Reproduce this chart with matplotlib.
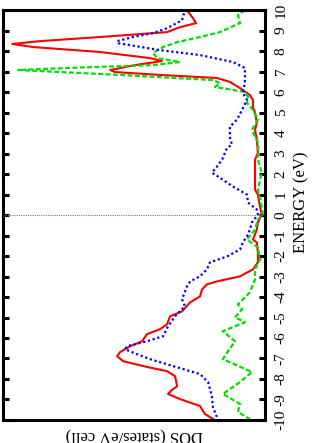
import numpy as np
import matplotlib.pyplot as plt

plt.rcParams["font.family"] = ["Liberation Serif", "DejaVu Serif"]

# energies (eV) and DOS (states/eV cell)
red_E = [10.0, 9.61, 9.37, 9.17, 8.93, 8.69, 8.49, 8.35, 8.20, 7.96, 7.66, 7.52,
         7.32, 7.08, 6.98, 6.84, 6.69, 6.50, 6.20, 5.86, 5.62, 5.28, 4.99, 4.50,
         4.16, 3.67, 3.04, 2.70, 2.07, 1.24, 1.00, 0.41, 0.02, -0.36, -0.71,
         -1.19, -1.34, -1.82, -2.31, -2.65, -2.99, -3.24, -3.38, -3.63, -3.97,
         -4.26, -4.70, -4.94, -5.33, -5.57, -5.81, -6.16, -6.40, -6.69, -6.89,
         -7.13, -7.37, -7.62, -7.86, -8.35, -8.54, -8.73, -8.98, -9.32, -9.71, -9.95]
red_D = [3.00, 2.77, 2.65, 3.27, 3.77, 6.35, 8.65, 9.73, 8.92, 6.35, 4.42, 3.96,
         5.00, 5.96, 5.77, 4.04, 1.85, 1.35, 0.96, 0.58, 0.46, 0.46, 0.38, 0.31,
         0.38, 0.31, 0.27, 0.38, 0.38, 0.38, 0.27, 0.19, 0.12, 0.27, 0.31,
         0.46, 0.31, 0.27, 0.27, 0.46, 0.96, 1.85, 2.23, 2.42, 2.50,
         2.88, 3.19, 3.65, 3.77, 4.04, 4.54, 4.73, 5.19, 5.58, 5.69,
         5.46, 4.69, 3.77, 3.46, 3.38, 3.58, 3.73, 3.27, 2.50, 2.31, 2.00]

blue_E = [10.0, 9.76, 9.51, 9.12, 8.88, 8.69, 8.49, 8.39, 8.05, 7.81, 7.47, 7.18,
          6.45, 5.96, 5.62, 5.13, 4.65, 4.31, 3.82, 3.43, 3.28, 2.70, 2.36, 2.07,
          1.82, 1.39, 1.00, 0.61, 0.27, 0.02, -0.36, -0.71, -0.95, -1.34, -1.68,
          -2.02, -2.31, -2.65, -2.99, -3.24, -3.48, -4.11, -4.45, -4.94, -5.43,
          -5.91, -6.16, -6.40, -6.55, -6.79, -7.03, -7.37, -7.76, -8.15, -8.83,
          -9.37, -9.85]
blue_D = [2.96, 3.15, 3.19, 3.77, 4.31, 5.08, 5.69, 5.65, 4.04, 2.50, 1.23, 0.77,
          0.77, 0.85, 0.69, 0.88, 1.08, 1.35, 1.35, 1.27, 1.46, 1.65, 1.85, 2.04,
          1.73, 1.23, 0.69, 0.65, 0.31, 0.27, 0.50, 0.58, 0.65, 0.85, 0.96,
          1.46, 2.12, 2.23, 2.50, 2.88, 3.00, 3.19, 3.08, 3.46, 3.73,
          3.92, 4.54, 5.31, 5.38, 4.92, 4.42, 3.54, 2.50, 2.19, 2.04,
          2.00, 1.85]

green_E = [10.0, 9.76, 9.37, 8.93, 8.69, 8.44, 8.20, 7.91, 7.66, 7.47, 7.32, 7.18,
           7.08, 6.84, 6.59, 6.45, 6.25, 6.01, 5.77, 5.47, 5.13, 4.65, 4.16, 3.53,
           2.70, 2.07, 1.24, 0.41, 0.02, -0.22, -0.71, -1.19, -1.58, -2.17, -2.65,
           -3.14, -3.77, -4.36, -4.60, -4.99, -5.23, -5.67, -6.16, -6.64, -7.03,
           -7.66, -8.15, -8.73, -9.22, -9.61, -9.95]
green_D = [0.77, 1.04, 0.96, 1.73, 2.50, 3.38, 3.92, 4.31, 4.15, 3.27, 4.31, 7.62,
           9.50, 5.58, 2.00, 1.73, 1.92, 0.77, 0.65, 0.69, 0.46, 0.27, 0.50, 0.27,
           0.27, 0.12, 0.27, 0.12, 0.08, 0.27, 0.38, 0.69, 0.27, 0.19, 0.38,
           0.38, 0.58, 1.04, 0.88, 1.15, 0.77, 1.62, 1.15, 1.42, 1.62,
           0.50, 0.96, 1.62, 0.96, 1.04, 0.58]

energy_ticks = np.arange(-10, 11, 1)

fig = plt.figure(figsize=(3.12, 4.43), dpi=100)
ax = fig.add_axes([0.010, 0.052, 0.839, 0.925])

# plot is drawn sideways: energy runs up, DOS grows to the left
ax.plot(red_D, red_E, color="#ff0000", lw=1.5, solid_joinstyle="round")
ax.plot(green_D, green_E, color="#00e000", lw=1.6, linestyle=(0, (2.2, 1.1)))
ax.plot(blue_D, blue_E, color="#0000ff", lw=1.6, linestyle=(0, (1, 1.2)))
ax.axhline(0, color="#777777", lw=0.8, linestyle=(0, (1, 1)))

ax.set_xlim(10.08, 0)
ax.set_ylim(-10, 10)

for s in ax.spines.values():
    s.set_linewidth(2.2)

ax.set_xticks([])
ax.set_yticks(energy_ticks)
ax.set_yticklabels([str(t) for t in energy_ticks], rotation=90, va="center")
ax.yaxis.tick_right()
ax.tick_params(axis="y", which="both", direction="in", left=True, right=True,
               length=4, width=2.2, labelsize=11, pad=7)

fig.text(0.966, 0.544, "ENERGY (eV)", rotation=90, ha="center", va="center",
         fontsize=12)
fig.text(0.43, 0.017, "DOS (states/eV cell)", rotation=180, ha="center",
         va="center", fontsize=12)

fig.savefig("out.png", dpi=100)
